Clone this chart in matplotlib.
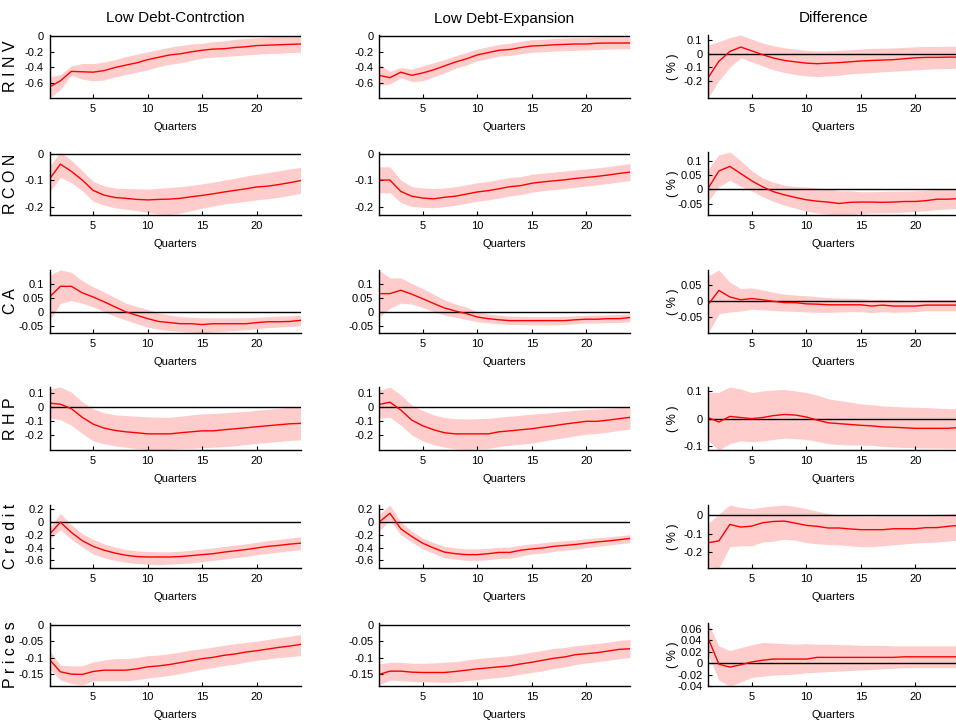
import numpy as np
import matplotlib
matplotlib.use('Agg')
import matplotlib.pyplot as plt
from matplotlib.ticker import FormatStrFormatter

plt.rcParams['font.family'] = ['Liberation Sans Narrow', 'Liberation Sans', 'DejaVu Sans']

quarters = np.arange(1, 25)
col_titles = ['Low Debt-Contrction', 'Low Debt-Expansion', 'Difference']
row_labels = ['R I N V', 'R C O N', 'C A', 'R H P', 'C r e d i t', 'P r i c e s']

# ---- RINV
rinv_con = [-0.65,-0.57,-0.45,-0.455,-0.46,-0.44,-0.40,-0.37,-0.34,-0.30,-0.27,-0.24,-0.225,-0.20,-0.18,-0.165,-0.16,-0.145,-0.135,-0.12,-0.115,-0.11,-0.105,-0.10]
rinv_con_hi = [-0.52,-0.49,-0.38,-0.35,-0.35,-0.33,-0.30,-0.26,-0.23,-0.20,-0.17,-0.14,-0.12,-0.10,-0.09,-0.07,-0.06,-0.04,-0.03,-0.02,-0.01,0.0,0.01,0.01]
rinv_con_lo = [-0.79,-0.68,-0.50,-0.55,-0.57,-0.56,-0.52,-0.49,-0.46,-0.43,-0.39,-0.36,-0.34,-0.31,-0.28,-0.27,-0.26,-0.25,-0.24,-0.23,-0.22,-0.22,-0.21,-0.21]
rinv_exp = [-0.50,-0.53,-0.46,-0.50,-0.47,-0.43,-0.38,-0.33,-0.29,-0.24,-0.21,-0.18,-0.17,-0.145,-0.125,-0.12,-0.11,-0.105,-0.10,-0.10,-0.09,-0.088,-0.088,-0.087]
rinv_exp_hi = [-0.36,-0.45,-0.40,-0.42,-0.38,-0.34,-0.30,-0.25,-0.21,-0.165,-0.135,-0.105,-0.09,-0.065,-0.045,-0.04,-0.03,-0.025,-0.02,-0.02,-0.01,-0.01,-0.01,-0.01]
rinv_exp_lo = [-0.63,-0.61,-0.53,-0.58,-0.57,-0.52,-0.47,-0.41,-0.37,-0.315,-0.285,-0.255,-0.245,-0.225,-0.205,-0.20,-0.19,-0.185,-0.18,-0.175,-0.17,-0.165,-0.163,-0.16]
rinv_dif = [-0.18,-0.056,0.017,0.05,0.022,-0.007,-0.032,-0.05,-0.06,-0.07,-0.074,-0.07,-0.066,-0.06,-0.054,-0.05,-0.047,-0.044,-0.037,-0.03,-0.027,-0.027,-0.025,-0.025]
rinv_dif_hi = [0.066,0.09,0.12,0.14,0.11,0.08,0.06,0.045,0.035,0.025,0.02,0.022,0.026,0.03,0.035,0.04,0.042,0.044,0.048,0.052,0.054,0.055,0.056,0.056]
rinv_dif_lo = [-0.33,-0.20,-0.10,-0.03,-0.06,-0.09,-0.12,-0.14,-0.155,-0.165,-0.17,-0.165,-0.16,-0.15,-0.145,-0.14,-0.135,-0.13,-0.125,-0.12,-0.115,-0.112,-0.11,-0.108]

# ---- RCON
rcon_con = [-0.096,-0.04,-0.067,-0.10,-0.139,-0.157,-0.166,-0.169,-0.173,-0.175,-0.173,-0.172,-0.169,-0.163,-0.158,-0.152,-0.145,-0.139,-0.133,-0.126,-0.123,-0.117,-0.11,-0.102]
rcon_con_hi = [-0.047,0.005,-0.025,-0.065,-0.105,-0.122,-0.13,-0.132,-0.133,-0.134,-0.131,-0.128,-0.125,-0.12,-0.114,-0.108,-0.1,-0.093,-0.085,-0.078,-0.072,-0.065,-0.058,-0.052]
rcon_con_lo = [-0.145,-0.09,-0.11,-0.14,-0.18,-0.195,-0.205,-0.21,-0.215,-0.222,-0.228,-0.23,-0.225,-0.215,-0.206,-0.198,-0.19,-0.186,-0.18,-0.175,-0.17,-0.165,-0.158,-0.15]
rcon_exp = [-0.10,-0.10,-0.143,-0.161,-0.168,-0.171,-0.165,-0.161,-0.153,-0.145,-0.14,-0.133,-0.125,-0.121,-0.112,-0.107,-0.103,-0.099,-0.094,-0.09,-0.086,-0.081,-0.075,-0.07]
rcon_exp_hi = [-0.05,-0.05,-0.10,-0.125,-0.13,-0.132,-0.13,-0.125,-0.118,-0.11,-0.105,-0.098,-0.09,-0.087,-0.078,-0.074,-0.07,-0.066,-0.062,-0.058,-0.054,-0.049,-0.043,-0.038]
rcon_exp_lo = [-0.148,-0.148,-0.185,-0.2,-0.203,-0.205,-0.2,-0.195,-0.188,-0.18,-0.175,-0.168,-0.16,-0.155,-0.146,-0.14,-0.136,-0.132,-0.127,-0.123,-0.118,-0.113,-0.107,-0.102]
rcon_dif = [0.003,0.064,0.08,0.055,0.03,0.009,-0.008,-0.019,-0.028,-0.036,-0.041,-0.044,-0.049,-0.045,-0.044,-0.044,-0.045,-0.044,-0.042,-0.042,-0.039,-0.034,-0.034,-0.032]
rcon_dif_hi = [0.07,0.12,0.13,0.10,0.065,0.04,0.025,0.015,0.01,0.008,0.005,0.002,-0.005,-0.005,-0.008,-0.008,-0.007,-0.006,-0.006,-0.005,-0.003,0.0,0.0,0.001]
rcon_dif_lo = [-0.042,0.009,0.032,0.01,-0.005,-0.025,-0.042,-0.055,-0.065,-0.076,-0.082,-0.086,-0.089,-0.088,-0.084,-0.082,-0.082,-0.081,-0.079,-0.077,-0.074,-0.07,-0.068,-0.066]

# ---- CA
ca_con = [0.052,0.09,0.09,0.067,0.052,0.035,0.017,-0.001,-0.013,-0.025,-0.035,-0.039,-0.043,-0.043,-0.046,-0.043,-0.043,-0.043,-0.043,-0.039,-0.036,-0.036,-0.035,-0.031]
ca_con_hi = [0.13,0.148,0.14,0.11,0.088,0.07,0.05,0.03,0.018,0.008,-0.005,-0.012,-0.018,-0.02,-0.022,-0.022,-0.022,-0.022,-0.022,-0.02,-0.018,-0.016,-0.015,-0.013]
ca_con_lo = [-0.031,0.029,0.04,0.03,0.017,0.0,-0.017,-0.03,-0.043,-0.055,-0.063,-0.068,-0.07,-0.073,-0.076,-0.072,-0.07,-0.067,-0.065,-0.06,-0.057,-0.055,-0.053,-0.05]
ca_exp = [0.064,0.064,0.076,0.062,0.046,0.029,0.013,0.002,-0.007,-0.019,-0.025,-0.029,-0.032,-0.032,-0.032,-0.032,-0.032,-0.032,-0.029,-0.027,-0.027,-0.025,-0.025,-0.021]
ca_exp_hi = [0.148,0.12,0.12,0.10,0.082,0.062,0.042,0.027,0.016,0.0,-0.008,-0.013,-0.016,-0.017,-0.018,-0.018,-0.018,-0.017,-0.015,-0.013,-0.012,-0.011,-0.01,-0.007]
ca_exp_lo = [-0.02,0.012,0.03,0.027,0.015,0.0,-0.012,-0.02,-0.028,-0.036,-0.04,-0.043,-0.046,-0.046,-0.047,-0.047,-0.047,-0.046,-0.043,-0.041,-0.041,-0.039,-0.039,-0.036]
ca_dif = [-0.012,0.034,0.013,0.004,0.008,0.004,-0.001,-0.005,-0.005,-0.009,-0.01,-0.012,-0.012,-0.012,-0.012,-0.016,-0.013,-0.016,-0.016,-0.016,-0.013,-0.013,-0.013,-0.013]
ca_dif_hi = [0.08,0.099,0.06,0.04,0.042,0.035,0.028,0.022,0.019,0.017,0.014,0.011,0.01,0.009,0.008,0.005,0.006,0.004,0.003,0.003,0.005,0.005,0.005,0.005]
ca_dif_lo = [-0.102,-0.041,-0.035,-0.032,-0.026,-0.028,-0.03,-0.032,-0.033,-0.035,-0.036,-0.036,-0.035,-0.034,-0.034,-0.037,-0.034,-0.036,-0.035,-0.034,-0.031,-0.031,-0.031,-0.031]

# ---- RHP
rhp_con = [0.03,0.022,-0.01,-0.073,-0.122,-0.151,-0.168,-0.178,-0.185,-0.193,-0.193,-0.193,-0.185,-0.178,-0.171,-0.171,-0.163,-0.156,-0.149,-0.141,-0.134,-0.127,-0.12,-0.117]
rhp_con_hi = [0.134,0.147,0.11,0.04,-0.012,-0.04,-0.055,-0.06,-0.065,-0.07,-0.072,-0.072,-0.065,-0.055,-0.048,-0.045,-0.04,-0.035,-0.03,-0.022,-0.015,-0.008,0.0,0.003]
rhp_con_lo = [-0.078,-0.09,-0.13,-0.19,-0.244,-0.265,-0.28,-0.29,-0.3,-0.305,-0.31,-0.305,-0.3,-0.298,-0.294,-0.29,-0.285,-0.28,-0.27,-0.262,-0.255,-0.248,-0.24,-0.237]
rhp_exp = [0.02,0.037,-0.02,-0.093,-0.134,-0.163,-0.185,-0.193,-0.193,-0.193,-0.193,-0.178,-0.171,-0.163,-0.156,-0.144,-0.134,-0.122,-0.112,-0.102,-0.102,-0.093,-0.083,-0.073]
rhp_exp_hi = [0.122,0.147,0.09,0.015,-0.024,-0.055,-0.075,-0.083,-0.085,-0.083,-0.08,-0.072,-0.065,-0.058,-0.05,-0.045,-0.038,-0.03,-0.022,-0.015,-0.013,-0.008,-0.002,0.0]
rhp_exp_lo = [-0.078,-0.073,-0.13,-0.2,-0.244,-0.27,-0.29,-0.3,-0.305,-0.3,-0.298,-0.285,-0.275,-0.268,-0.26,-0.245,-0.233,-0.22,-0.208,-0.195,-0.19,-0.18,-0.168,-0.158]
rhp_dif = [0.004,-0.012,0.008,0.004,0.0,0.004,0.011,0.015,0.013,0.006,-0.005,-0.015,-0.018,-0.021,-0.024,-0.026,-0.03,-0.031,-0.033,-0.035,-0.035,-0.035,-0.035,-0.032]
rhp_dif_hi = [0.094,0.095,0.114,0.107,0.094,0.1,0.103,0.105,0.1,0.094,0.085,0.072,0.065,0.06,0.053,0.05,0.046,0.044,0.042,0.041,0.04,0.038,0.036,0.036]
rhp_dif_lo = [-0.08,-0.113,-0.09,-0.08,-0.083,-0.08,-0.075,-0.07,-0.072,-0.075,-0.082,-0.09,-0.093,-0.095,-0.095,-0.096,-0.1,-0.102,-0.104,-0.105,-0.106,-0.106,-0.107,-0.107]

# ---- Credit
credit_con = [-0.19,0.0,-0.16,-0.29,-0.38,-0.44,-0.485,-0.52,-0.54,-0.547,-0.547,-0.547,-0.54,-0.525,-0.51,-0.495,-0.47,-0.45,-0.43,-0.405,-0.38,-0.365,-0.345,-0.33]
credit_con_hi = [-0.094,0.14,-0.04,-0.18,-0.27,-0.34,-0.39,-0.43,-0.45,-0.46,-0.465,-0.465,-0.455,-0.44,-0.42,-0.405,-0.38,-0.36,-0.34,-0.315,-0.29,-0.27,-0.25,-0.23]
credit_con_lo = [-0.265,-0.12,-0.27,-0.39,-0.5,-0.56,-0.6,-0.63,-0.65,-0.66,-0.67,-0.66,-0.65,-0.64,-0.62,-0.6,-0.58,-0.56,-0.54,-0.51,-0.49,-0.47,-0.45,-0.43]
credit_exp = [0.0,0.14,-0.104,-0.224,-0.33,-0.405,-0.47,-0.495,-0.51,-0.51,-0.495,-0.475,-0.475,-0.44,-0.42,-0.405,-0.38,-0.365,-0.35,-0.33,-0.31,-0.295,-0.276,-0.255]
credit_exp_hi = [0.12,0.27,0.0,-0.14,-0.25,-0.32,-0.38,-0.405,-0.42,-0.42,-0.41,-0.395,-0.39,-0.36,-0.34,-0.325,-0.305,-0.29,-0.28,-0.26,-0.245,-0.23,-0.215,-0.195]
credit_exp_lo = [-0.14,0.03,-0.2,-0.31,-0.42,-0.49,-0.56,-0.58,-0.6,-0.6,-0.59,-0.57,-0.565,-0.53,-0.5,-0.485,-0.46,-0.44,-0.425,-0.4,-0.38,-0.36,-0.34,-0.32]
credit_dif = [-0.149,-0.139,-0.051,-0.065,-0.06,-0.042,-0.035,-0.033,-0.044,-0.056,-0.061,-0.07,-0.07,-0.075,-0.079,-0.079,-0.079,-0.074,-0.074,-0.074,-0.068,-0.068,-0.061,-0.056]
credit_dif_hi = [-0.047,0.005,0.053,0.04,0.033,0.042,0.048,0.053,0.045,0.033,0.02,0.008,0.0,-0.003,-0.005,-0.005,-0.003,-0.002,0.0,0.0,0.002,0.004,0.006,0.01]
credit_dif_lo = [-0.275,-0.284,-0.17,-0.165,-0.165,-0.145,-0.14,-0.13,-0.135,-0.148,-0.155,-0.158,-0.16,-0.165,-0.17,-0.17,-0.165,-0.16,-0.155,-0.15,-0.148,-0.145,-0.14,-0.135]

# ---- Prices
prices_con = [-0.106,-0.143,-0.15,-0.151,-0.142,-0.138,-0.138,-0.138,-0.134,-0.128,-0.125,-0.121,-0.115,-0.109,-0.103,-0.099,-0.093,-0.089,-0.083,-0.079,-0.074,-0.069,-0.065,-0.06]
prices_con_hi = [-0.078,-0.123,-0.125,-0.125,-0.113,-0.107,-0.103,-0.103,-0.1,-0.094,-0.092,-0.088,-0.083,-0.077,-0.073,-0.068,-0.062,-0.058,-0.054,-0.05,-0.045,-0.04,-0.035,-0.03]
prices_con_lo = [-0.133,-0.168,-0.178,-0.183,-0.17,-0.17,-0.17,-0.17,-0.167,-0.162,-0.158,-0.154,-0.148,-0.142,-0.135,-0.13,-0.124,-0.12,-0.113,-0.108,-0.104,-0.1,-0.097,-0.094]
prices_exp = [-0.151,-0.141,-0.141,-0.144,-0.145,-0.145,-0.145,-0.142,-0.138,-0.134,-0.131,-0.128,-0.125,-0.119,-0.114,-0.108,-0.102,-0.098,-0.091,-0.088,-0.085,-0.08,-0.075,-0.073]
prices_exp_hi = [-0.119,-0.114,-0.114,-0.117,-0.117,-0.116,-0.114,-0.112,-0.107,-0.103,-0.1,-0.097,-0.094,-0.089,-0.083,-0.078,-0.072,-0.069,-0.064,-0.06,-0.057,-0.053,-0.048,-0.045]
prices_exp_lo = [-0.183,-0.168,-0.17,-0.172,-0.173,-0.174,-0.175,-0.174,-0.17,-0.167,-0.163,-0.16,-0.156,-0.15,-0.145,-0.14,-0.133,-0.128,-0.121,-0.116,-0.112,-0.108,-0.103,-0.1]
prices_dif = [0.044,-0.002,-0.007,-0.003,0.002,0.005,0.007,0.007,0.007,0.007,0.01,0.01,0.01,0.01,0.01,0.01,0.01,0.01,0.011,0.011,0.011,0.011,0.011,0.011]
prices_dif_hi = [0.07,0.03,0.022,0.027,0.032,0.036,0.035,0.034,0.033,0.034,0.033,0.033,0.032,0.032,0.031,0.031,0.031,0.03,0.03,0.03,0.03,0.03,0.03,0.03]
prices_dif_lo = [0.015,-0.03,-0.04,-0.033,-0.025,-0.023,-0.021,-0.02,-0.019,-0.017,-0.016,-0.015,-0.014,-0.013,-0.012,-0.011,-0.01,-0.009,-0.008,-0.008,-0.008,-0.008,-0.008,-0.008]

# y-axis limits and ticks (cols 1-2 share, col 3 own)
ylims_level = [(-0.79, 0.015), (-0.232, 0.006), (-0.076, 0.148), (-0.31, 0.147), (-0.72, 0.27), (-0.186, 0.005)]
yticks_level = [[-0.6, -0.4, -0.2, 0], [-0.2, -0.1, 0], [-0.05, 0, 0.05, 0.1], [-0.2, -0.1, 0, 0.1],
                [-0.6, -0.4, -0.2, 0, 0.2], [-0.15, -0.1, -0.05, 0]]
ylims_dif = [(-0.33, 0.14), (-0.089, 0.13), (-0.102, 0.099), (-0.113, 0.114), (-0.284, 0.053), (-0.04, 0.07)]
yticks_dif = [[-0.2, -0.1, 0, 0.1], [-0.05, 0, 0.05, 0.1], [-0.05, 0, 0.05], [-0.1, 0, 0.1],
              [-0.2, -0.1, 0], [-0.04, -0.02, 0, 0.02, 0.04, 0.06]]

panels = [
    [(rinv_con, rinv_con_lo, rinv_con_hi), (rinv_exp, rinv_exp_lo, rinv_exp_hi), (rinv_dif, rinv_dif_lo, rinv_dif_hi)],
    [(rcon_con, rcon_con_lo, rcon_con_hi), (rcon_exp, rcon_exp_lo, rcon_exp_hi), (rcon_dif, rcon_dif_lo, rcon_dif_hi)],
    [(ca_con, ca_con_lo, ca_con_hi), (ca_exp, ca_exp_lo, ca_exp_hi), (ca_dif, ca_dif_lo, ca_dif_hi)],
    [(rhp_con, rhp_con_lo, rhp_con_hi), (rhp_exp, rhp_exp_lo, rhp_exp_hi), (rhp_dif, rhp_dif_lo, rhp_dif_hi)],
    [(credit_con, credit_con_lo, credit_con_hi), (credit_exp, credit_exp_lo, credit_exp_hi), (credit_dif, credit_dif_lo, credit_dif_hi)],
    [(prices_con, prices_con_lo, prices_con_hi), (prices_exp, prices_exp_lo, prices_exp_hi), (prices_dif, prices_dif_lo, prices_dif_hi)],
]

W, H = 956.0, 726.0
fig = plt.figure(figsize=(W / 100, H / 100), dpi=100)

col_left = [49.5, 379.0, 708.0]
row_top = [35.0, 152.0, 270.0, 387.0, 505.0, 623.0]
ax_w, ax_h = 251.0, 63.0

for r in range(6):
    for c in range(3):
        mean, lo, hi = panels[r][c]
        ax = fig.add_axes([col_left[c] / W, 1 - (row_top[r] + ax_h) / H, ax_w / W, ax_h / H])
        ax.fill_between(quarters, lo, hi, color='#ffcccc', lw=0)
        ax.axhline(0, color='k', lw=1)
        ax.plot(quarters, mean, color='red', lw=1)
        ax.set_xlim(1, 24)
        if c < 2:
            ax.set_ylim(*ylims_level[r])
            ax.set_yticks(yticks_level[r])
        else:
            ax.set_ylim(*ylims_dif[r])
            ax.set_yticks(yticks_dif[r])
        ax.set_xticks([5, 10, 15, 20])
        ax.yaxis.set_major_formatter(FormatStrFormatter('%g'))
        ax.spines['top'].set_visible(False)
        ax.spines['right'].set_visible(False)
        ax.spines['left'].set_linewidth(1)
        ax.spines['bottom'].set_linewidth(1)
        ax.tick_params(direction='in', length=3, labelsize=8, pad=4)
        ax.set_xlabel('Quarters', fontsize=8, labelpad=6)
        if c == 0:
            ax.set_ylabel(row_labels[r], fontsize=11.5)
            ax.yaxis.set_label_coords(-0.125, 0.5)
        elif c == 2:
            ax.set_ylabel('( % )', fontsize=9)
            ax.yaxis.set_label_coords(-0.115, 0.5)
        if r == 0:
            ax.set_title(col_titles[c], fontsize=11, pad=9)

fig.savefig('out.png', dpi=100)
